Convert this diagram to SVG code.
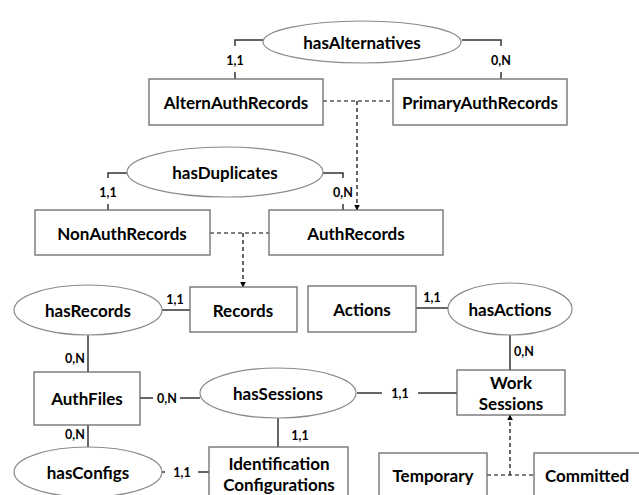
<svg xmlns="http://www.w3.org/2000/svg" width="639" height="495" viewBox="0 0 639 495">
<defs>
<marker id="arr" viewBox="0 0 10 10" refX="9" refY="5" markerWidth="6" markerHeight="6" markerUnits="userSpaceOnUse" orient="auto">
<path d="M0,0 L10,5 L0,10 z" fill="#000"/>
</marker>
<style>
.box{fill:#fff;stroke:#6b6b6b;stroke-width:1.3}
.rel{fill:#fff;stroke:#8a8a8a;stroke-width:1.2}
.t{font-family:Lato,"Open Sans","Liberation Sans",sans-serif;font-weight:bold;font-size:17px;fill:#000;text-anchor:middle;dominant-baseline:central}
.c{font-family:Lato,"Open Sans","Liberation Sans",sans-serif;font-weight:bold;font-size:12.5px;fill:#000;text-anchor:middle;dominant-baseline:central}
.ln{fill:none;stroke:#333;stroke-width:1.5}
.ds{fill:none;stroke:#000;stroke-width:1.2;stroke-dasharray:4,3}
</style>
</defs>
<rect width="639" height="495" fill="#fff"/>
<g id="connectors">
<path class="ln" d="M263,40 H235 V46"/>
<path class="ln" d="M235,72 V79"/>
<path class="ln" d="M462,40 H501 V46"/>
<path class="ln" d="M501,72 V79"/>
<path class="ln" d="M127,173 H108 V178"/>
<path class="ln" d="M108,204 V210"/>
<path class="ln" d="M323,173 H343 V178"/>
<path class="ln" d="M343,204 V210"/>
<path class="ln" d="M162,310 H190"/>
<path class="ln" d="M88,335 V372"/>
<path class="ln" d="M88,425 V447"/>
<path class="ln" d="M140,398 H153"/>
<path class="ln" d="M180,398 H200"/>
<path class="ln" d="M278,418 V447"/>
<path class="ln" d="M162,472 H165"/>
<path class="ln" d="M198,472 H209"/>
<path class="ln" d="M416,308 H448"/>
<path class="ln" d="M510,335 V370"/>
<path class="ln" d="M357,393 H382"/>
<path class="ln" d="M418,393 H457"/>
<path class="ds" d="M323,101 H393"/>
<path class="ds" d="M357,101 V210" marker-end="url(#arr)"/>
<path class="ds" d="M210,233 H269"/>
<path class="ds" d="M243,233 V287" marker-end="url(#arr)"/>
<path class="ds" d="M487,475 H534"/>
<path class="ds" d="M510,475 V415" marker-end="url(#arr)"/>
<text class="c" x="235" y="60">1,1</text>
<text class="c" x="501" y="60">0,N</text>
<text class="c" x="108" y="192">1,1</text>
<text class="c" x="343" y="192">0,N</text>
<text class="c" x="175" y="299">1,1</text>
<text class="c" x="75" y="358">0,N</text>
<text class="c" x="75" y="434">0,N</text>
<text class="c" x="167" y="398">0,N</text>
<text class="c" x="300" y="435">1,1</text>
<text class="c" x="182" y="472">1,1</text>
<text class="c" x="432" y="297">1,1</text>
<text class="c" x="524" y="351">0,N</text>
<text class="c" x="400" y="393">1,1</text>
</g>
<g id="hasAlternatives"><ellipse class="rel" cx="362" cy="42" rx="99" ry="21"/><text class="t" x="362" y="42">hasAlternatives</text></g>
<g id="AlternAuthRecords"><rect class="box" x="149" y="79" width="174" height="46"/><text class="t" x="236" y="102">AlternAuthRecords</text></g>
<g id="PrimaryAuthRecords"><rect class="box" x="393" y="79" width="174" height="46"/><text class="t" x="480" y="102">PrimaryAuthRecords</text></g>
<g id="hasDuplicates"><ellipse class="rel" cx="225" cy="172" rx="98" ry="25"/><text class="t" x="225" y="172">hasDuplicates</text></g>
<g id="NonAuthRecords"><rect class="box" x="35" y="210" width="175" height="45"/><text class="t" x="122" y="233">NonAuthRecords</text></g>
<g id="AuthRecords"><rect class="box" x="269" y="210" width="174" height="45"/><text class="t" x="356" y="233">AuthRecords</text></g>
<g id="hasRecords"><ellipse class="rel" cx="88" cy="310" rx="74" ry="25"/><text class="t" x="88" y="310">hasRecords</text></g>
<g id="Records"><rect class="box" x="190" y="287" width="107" height="45"/><text class="t" x="243" y="310">Records</text></g>
<g id="Actions"><rect class="box" x="308" y="286" width="108" height="46"/><text class="t" x="362" y="309">Actions</text></g>
<g id="hasActions"><ellipse class="rel" cx="510" cy="309" rx="62" ry="26"/><text class="t" x="510" y="309">hasActions</text></g>
<g id="AuthFiles"><rect class="box" x="34" y="372" width="106" height="53"/><text class="t" x="87" y="398">AuthFiles</text></g>
<g id="hasSessions"><ellipse class="rel" cx="278" cy="393" rx="78" ry="25"/><text class="t" x="278" y="393">hasSessions</text></g>
<g id="WorkSessions"><rect class="box" x="457" y="370" width="108" height="45"/><text class="t" x="511" y="382">Work</text><text class="t" x="511" y="403">Sessions</text></g>
<g id="hasConfigs"><ellipse class="rel" cx="88" cy="472" rx="74" ry="25"/><text class="t" x="88" y="472">hasConfigs</text></g>
<g id="IdentificationConfigurations"><rect class="box" x="209" y="447" width="139" height="60"/><text class="t" x="279" y="463">Identification</text><text class="t" x="279" y="484">Configurations</text></g>
<g id="Temporary"><rect class="box" x="379" y="453" width="108" height="54"/><text class="t" x="433" y="475">Temporary</text></g>
<g id="Committed"><rect class="box" x="534" y="453" width="108" height="54"/><text class="t" x="587" y="475">Committed</text></g>
</svg>
